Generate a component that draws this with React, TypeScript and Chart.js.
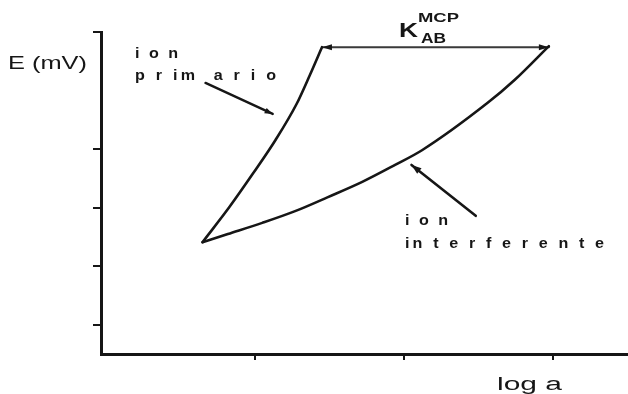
import { useEffect, useRef } from 'react';
import { Chart, registerables } from 'chart.js';

Chart.register(...registerables);

// Potential (y, arbitrary mV units) against log activity (x)
const primaryX = [0.65, 0.83, 0.99, 1.14, 1.28, 1.37, 1.45];
const primaryY = [1.91, 2.51, 3.09, 3.66, 4.27, 4.77, 5.24];
const interfX = [0.65, 0.82, 1.05, 1.27, 1.49, 1.72, 1.94, 2.12, 2.56, 2.74, 2.97];
const interfY = [1.91, 2.05, 2.24, 2.44, 2.68, 2.94, 3.23, 3.48, 4.29, 4.68, 5.26];

// K_AB span between the two curves at equal potential
const spanX = [1.45, 2.97];
const spanY = [5.24, 5.24];

// pointer lines from the labels to the curves
const pointerPrimX = [0.67, 1.12];
const pointerPrimY = [4.63, 4.1];
const pointerInterfX = [2.48, 2.05];
const pointerInterfY = [2.36, 3.23];

const xTicks = [1, 2, 3];
const yTicks = [0.5, 1.5, 2.5, 3.5, 5.5];

const INK = '#161616';

const toPoints = (xs: number[], ys: number[]) => xs.map((x, i) => ({ x, y: ys[i] }));

function arrowHead(ctx: CanvasRenderingContext2D, x0: number, y0: number, x1: number, y1: number, len: number, half: number) {
  const a = Math.atan2(y1 - y0, x1 - x0);
  const bx = x1 - len * Math.cos(a);
  const by = y1 - len * Math.sin(a);
  ctx.beginPath();
  ctx.moveTo(x1, y1);
  ctx.lineTo(bx + half * Math.sin(a), by - half * Math.cos(a));
  ctx.lineTo(bx - half * Math.sin(a), by + half * Math.cos(a));
  ctx.closePath();
  ctx.fill();
}

// letters spread evenly so the string spans x0..x1
function spacedText(ctx: CanvasRenderingContext2D, text: string, x0: number, x1: number, y: number, sx: number) {
  const chars = Array.from(text);
  const widths = chars.map((c) => ctx.measureText(c).width * sx);
  const natural = widths.reduce((s, w) => s + w, 0);
  const gap = chars.length > 1 ? (x1 - x0 - natural) / (chars.length - 1) : 0;
  let x = x0;
  chars.forEach((c, i) => {
    if (c !== ' ') {
      ctx.save();
      ctx.translate(x, y);
      ctx.scale(sx, 1);
      ctx.fillText(c, 0, 0);
      ctx.restore();
    }
    x += widths[i] + gap;
  });
}

// string stretched horizontally to span x0..x1
function stretchedText(ctx: CanvasRenderingContext2D, text: string, x0: number, x1: number, y: number) {
  const w = ctx.measureText(text).width;
  ctx.save();
  ctx.translate(x0, y);
  ctx.scale((x1 - x0) / w, 1);
  ctx.fillText(text, 0, 0);
  ctx.restore();
}

const annotations = {
  id: 'annotations',
  afterDatasetsDraw(chart: Chart) {
    const { ctx } = chart;
    const xs = chart.scales.x;
    const ys = chart.scales.y;
    const px = (v: number) => xs.getPixelForValue(v);
    const py = (v: number) => ys.getPixelForValue(v);

    ctx.save();
    ctx.fillStyle = INK;

    // span arrow heads (both ends)
    arrowHead(ctx, px(spanX[1]), py(spanY[1]), px(spanX[0]), py(spanY[0]), 10, 3);
    arrowHead(ctx, px(spanX[0]), py(spanY[0]), px(spanX[1]), py(spanY[1]), 10, 3);
    // pointer heads
    arrowHead(ctx, px(pointerPrimX[0]), py(pointerPrimY[0]), px(pointerPrimX[1]), py(pointerPrimY[1]), 8, 3);
    arrowHead(ctx, px(pointerInterfX[0]), py(pointerInterfY[0]), px(pointerInterfX[1]), py(pointerInterfY[1]), 10, 3.5);

    ctx.textBaseline = 'alphabetic';
    ctx.textAlign = 'left';

    // axis titles
    ctx.font = '18px "Liberation Sans", Arial, sans-serif';
    stretchedText(ctx, 'E (mV)', 8, 87, 69);
    stretchedText(ctx, 'log a', 497, 562, 390);

    // curve labels
    ctx.font = 'bold 14px "Liberation Sans", Arial, sans-serif';
    spacedText(ctx, 'i o n', 135, 178, 58, 1.15);
    spacedText(ctx, 'p r im  a r i o', 135, 276, 80, 1.15);
    spacedText(ctx, 'i o n', 405, 448, 225, 1.15);
    spacedText(ctx, 'in t e r f e r e n t e', 405, 604, 248, 1.15);

    // K_AB^MCP
    ctx.font = 'bold 21px "Liberation Sans", Arial, sans-serif';
    stretchedText(ctx, 'K', 399, 418, 37);
    ctx.font = 'bold 12.5px "Liberation Sans", Arial, sans-serif';
    stretchedText(ctx, 'MCP', 418, 459, 22);
    ctx.font = 'bold 15px "Liberation Sans", Arial, sans-serif';
    stretchedText(ctx, 'AB', 421, 446, 43);

    ctx.restore();
  },
};

export default function App() {
  const canvasRef = useRef<HTMLCanvasElement | null>(null);

  useEffect(() => {
    const canvas = canvasRef.current;
    if (!canvas) return;

    const line = (xs: number[], ys: number[], width: number, smooth: boolean, color = INK) => ({
      data: toPoints(xs, ys),
      showLine: true,
      borderColor: color,
      backgroundColor: color,
      borderWidth: width,
      pointRadius: 0,
      tension: smooth ? 0.4 : 0,
      cubicInterpolationMode: smooth ? ('monotone' as const) : ('default' as const),
      borderCapStyle: 'round' as const,
      borderJoinStyle: 'round' as const,
    });

    const chart = new Chart(canvas, {
      type: 'scatter',
      data: {
        datasets: [
          line(primaryX, primaryY, 2.6, true),
          line(interfX, interfY, 2.6, true),
          line(spanX, spanY, 2, false, '#3a3a3a'),
          line(pointerPrimX, pointerPrimY, 2.4, false),
          line(pointerInterfX, pointerInterfY, 2.6, false),
        ],
      },
      options: {
        animation: false,
        responsive: false,
        events: [],
        layout: { padding: { top: 32, left: 0, right: 0, bottom: 0 } },
        plugins: {
          legend: { display: false },
          tooltip: { enabled: false },
        },
        scales: {
          x: {
            type: 'linear',
            min: -0.03,
            max: 3.5,
            afterBuildTicks: (s: any) => {
              s.ticks = xTicks.map((value) => ({ value }));
            },
            afterFit: (s: any) => {
              s.height = 40;
            },
            ticks: { display: false },
            grid: { drawOnChartArea: false, drawTicks: true, tickLength: 6, lineWidth: 2, color: INK },
            border: { display: true, width: 3, color: INK },
          },
          y: {
            type: 'linear',
            min: 0,
            max: 5.5,
            afterBuildTicks: (s: any) => {
              s.ticks = yTicks.map((value) => ({ value }));
            },
            afterFit: (s: any) => {
              s.width = 101;
            },
            ticks: { display: false },
            grid: { drawOnChartArea: false, drawTicks: true, tickLength: 8, lineWidth: 2, color: INK },
            border: { display: true, width: 3, color: INK },
          },
        },
      },
      plugins: [annotations],
    });

    return () => chart.destroy();
  }, []);

  return (
    <div style={{ position: 'fixed', left: 0, top: 0, width: 628, height: 394, background: '#fff' }}>
      <canvas ref={canvasRef} width={628} height={394} style={{ display: 'block' }} />
    </div>
  );
}
